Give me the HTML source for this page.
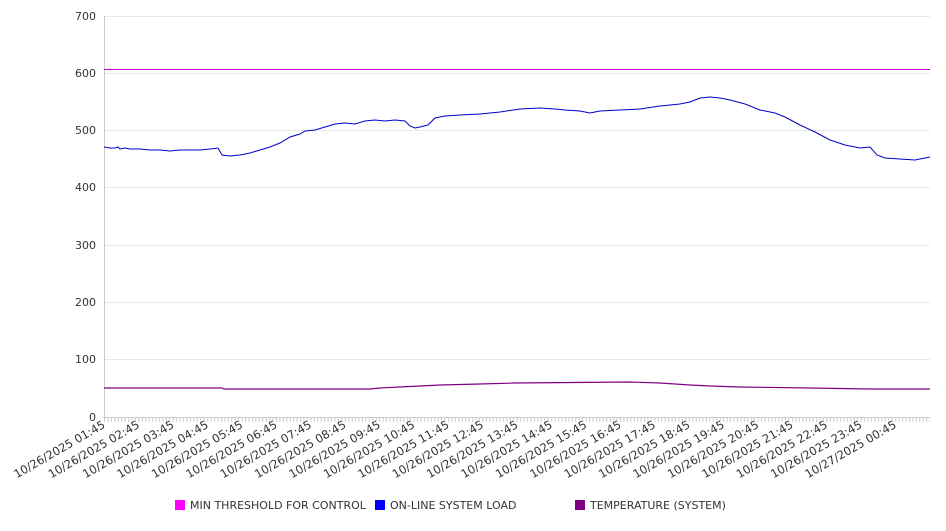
<!DOCTYPE html>
<html><head><meta charset="utf-8"><style>
html,body{margin:0;padding:0;background:#fff;}
svg text{font-family:"DejaVu Sans","Liberation Sans",sans-serif;fill:#333;}
</style></head><body>
<svg width="946" height="526" xmlns="http://www.w3.org/2000/svg">
<defs><pattern id="tk" x="104" y="0" width="3.44" height="10" patternUnits="userSpaceOnUse"><line x1="0.5" y1="0" x2="0.5" y2="10" stroke="#ccc" stroke-width="1"/></pattern></defs>
<g stroke="#e8e8e8" stroke-width="1">
<line x1="104" x2="930" y1="16.5" y2="16.5"/><line x1="104" x2="930" y1="73.5" y2="73.5"/>
<line x1="104" x2="930" y1="130.5" y2="130.5"/><line x1="104" x2="930" y1="187.5" y2="187.5"/>
<line x1="104" x2="930" y1="245.5" y2="245.5"/><line x1="104" x2="930" y1="302.5" y2="302.5"/>
<line x1="104" x2="930" y1="359.5" y2="359.5"/>
</g>
<line x1="104.5" y1="16" x2="104.5" y2="417" stroke="#ccc"/>
<line x1="104" y1="417.5" x2="930" y2="417.5" stroke="#ccc"/>
<rect x="104" y="417" width="826" height="5" fill="url(#tk)"/>
<g font-size="11" text-anchor="end">
<text x="96" y="20">700</text><text x="96" y="77">600</text><text x="96" y="134">500</text>
<text x="96" y="191">400</text><text x="96" y="249">300</text><text x="96" y="306">200</text>
<text x="96" y="363">100</text><text x="96" y="421">0</text>
</g>
<rect x="104" y="69" width="826" height="1" fill="#d000d0"/>
<polyline fill="none" stroke="#0000cc" stroke-width="1" points="104,147 110,148 115,148 118,147 120,149 125,148 130,149 140,149 150,150 160,150 170,151 180,150 190,150 200,150 210,149 218,148 222,155 230,156 240,155 250,153 260,150 270,147 280,143 290,137 300,134 305,131 315,130 325,127 335,124 345,123 355,124 365,121 375,120 385,121 395,120 405,121 410,126 415,128 420,127 428,125 435,118 445,116 460,115 480,114 500,112 520,109 540,108 555,109 565,110 580,111 590,113 600,111 620,110 640,109 660,106 680,104 690,102 700,98 710,97 720,98 730,100 745,104 760,110 775,113 785,117 800,125 815,132 830,140 845,145 860,148 870,147 877,155 885,158 900,159 915,160 930,157"/>
<polyline fill="none" stroke="#800080" stroke-width="1.2" points="104,388 222,388 224,389 370,389 380,388 400,387 440,385 480,384 515,383 630,382 660,383 690,385 710,386 740,387 810,388 870,389 930,389"/>
<g font-size="11.5" text-anchor="end">
<text transform="translate(106,427) rotate(-30)">10/26/2025 01:45</text>
<text transform="translate(140.4,427) rotate(-30)">10/26/2025 02:45</text>
<text transform="translate(174.8,427) rotate(-30)">10/26/2025 03:45</text>
<text transform="translate(209.2,427) rotate(-30)">10/26/2025 04:45</text>
<text transform="translate(243.6,427) rotate(-30)">10/26/2025 05:45</text>
<text transform="translate(278,427) rotate(-30)">10/26/2025 06:45</text>
<text transform="translate(312.4,427) rotate(-30)">10/26/2025 07:45</text>
<text transform="translate(346.8,427) rotate(-30)">10/26/2025 08:45</text>
<text transform="translate(381.2,427) rotate(-30)">10/26/2025 09:45</text>
<text transform="translate(415.6,427) rotate(-30)">10/26/2025 10:45</text>
<text transform="translate(450,427) rotate(-30)">10/26/2025 11:45</text>
<text transform="translate(484.4,427) rotate(-30)">10/26/2025 12:45</text>
<text transform="translate(518.8,427) rotate(-30)">10/26/2025 13:45</text>
<text transform="translate(553.2,427) rotate(-30)">10/26/2025 14:45</text>
<text transform="translate(587.6,427) rotate(-30)">10/26/2025 15:45</text>
<text transform="translate(622,427) rotate(-30)">10/26/2025 16:45</text>
<text transform="translate(656.4,427) rotate(-30)">10/26/2025 17:45</text>
<text transform="translate(690.8,427) rotate(-30)">10/26/2025 18:45</text>
<text transform="translate(725.2,427) rotate(-30)">10/26/2025 19:45</text>
<text transform="translate(759.6,427) rotate(-30)">10/26/2025 20:45</text>
<text transform="translate(794,427) rotate(-30)">10/26/2025 21:45</text>
<text transform="translate(828.4,427) rotate(-30)">10/26/2025 22:45</text>
<text transform="translate(862.8,427) rotate(-30)">10/26/2025 23:45</text>
<text transform="translate(897.2,427) rotate(-30)">10/27/2025 00:45</text>
</g>
<g font-size="11">
<rect x="175" y="500" width="10" height="10" fill="#ff00ff"/><text x="190" y="509">MIN THRESHOLD FOR CONTROL</text>
<rect x="375" y="500" width="10" height="10" fill="#0000ff"/><text x="390" y="509">ON-LINE SYSTEM LOAD</text>
<rect x="575" y="500" width="10" height="10" fill="#800080"/><text x="590" y="509">TEMPERATURE (SYSTEM)</text>
</g>
</svg>
</body></html>
